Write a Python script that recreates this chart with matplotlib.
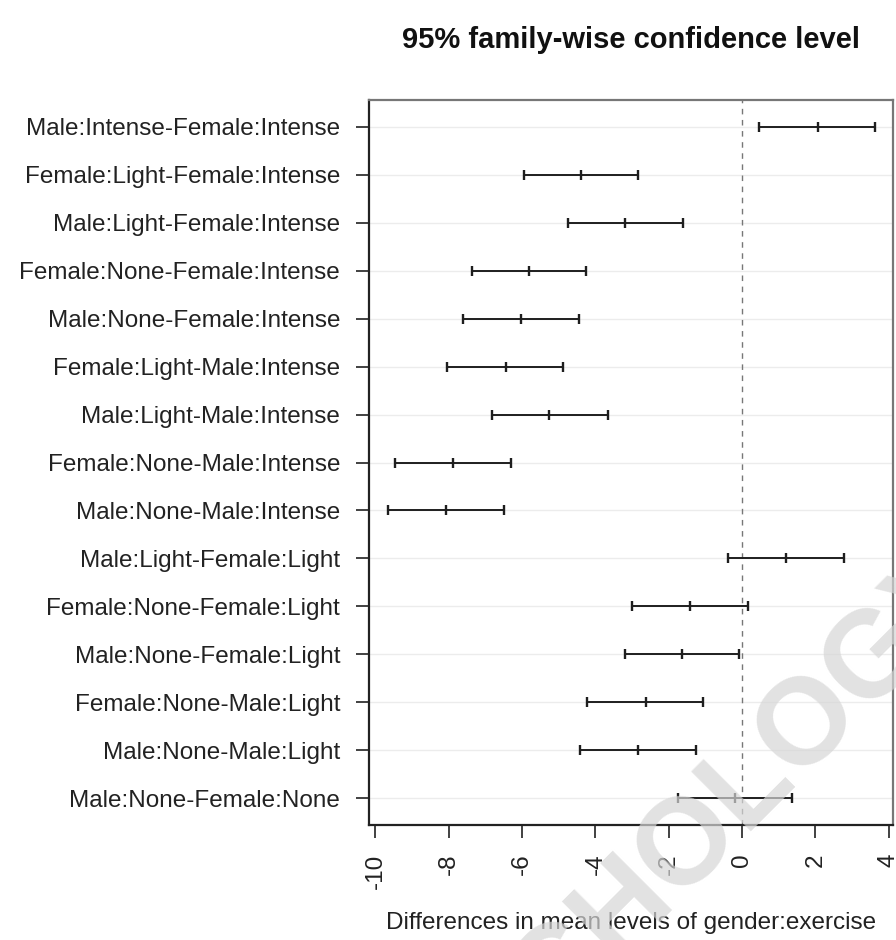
import matplotlib
matplotlib.use("Agg")
import matplotlib.pyplot as plt
import numpy as np

plt.rcParams['font.family'] = ['Liberation Sans', 'DejaVu Sans']

# Pairwise comparisons (Tukey HSD), top to bottom
comparisons = [
    "Male:Intense-Female:Intense",
    "Female:Light-Female:Intense",
    "Male:Light-Female:Intense",
    "Female:None-Female:Intense",
    "Male:None-Female:Intense",
    "Female:Light-Male:Intense",
    "Male:Light-Male:Intense",
    "Female:None-Male:Intense",
    "Male:None-Male:Intense",
    "Male:Light-Female:Light",
    "Female:None-Female:Light",
    "Male:None-Female:Light",
    "Female:None-Male:Light",
    "Male:None-Male:Light",
    "Male:None-Female:None",
]
diff = [2.06, -4.39, -3.18, -5.82, -6.02, -6.45, -5.26, -7.88, -8.08,
        1.19, -1.43, -1.64, -2.62, -2.85, -0.20]
lwr = [0.47, -5.96, -4.76, -7.37, -7.60, -8.04, -6.82, -9.46, -9.65,
       -0.37, -3.01, -3.19, -4.22, -4.42, -1.76]
upr = [3.62, -2.83, -1.62, -4.27, -4.44, -4.88, -3.66, -6.31, -6.50,
       2.78, 0.15, -0.07, -1.06, -1.25, 1.37]
x_ticks = [-10, -8, -6, -4, -2, 0, 2, 4]

fig = plt.figure(figsize=(8.96, 9.40), dpi=100)
ax = fig.add_axes([0.4113, 0.1223, 0.9967 - 0.4113, 0.8936 - 0.1223])

n = len(comparisons)
ypos = np.arange(n, 0, -1)

# faint horizontal guide lines for each comparison
for y in ypos:
    ax.axhline(y, color='#ececec', lw=1.0, zorder=0)

ax.axvline(0, color='#777777', lw=1.0, ls=(0, (4, 4)), zorder=1)

ax.hlines(ypos, lwr, upr, color='#1e1e1e', lw=1.4, zorder=3)
for vals in (lwr, diff, upr):
    ax.plot(vals, ypos, ls='none', marker='|', ms=7.5, mew=1.7, color='#1e1e1e', zorder=4)

ax.set_xlim(-10.19, 4.12)
ax.set_ylim(0.44, 15.56)

ax.set_yticks(ypos)
ax.set_yticklabels(comparisons, fontsize=17.5, color='#222222')
ax.set_xticks(x_ticks)
ax.set_xticklabels([str(t) for t in x_ticks], rotation=90, fontsize=17.5, color='#222222')
ax.tick_params(axis='both', length=9.5, width=1.3, color='#333333', pad=11)

for side in ['left', 'bottom']:
    ax.spines[side].set_color('#222222')
    ax.spines[side].set_linewidth(1.6)
for side in ['top', 'right']:
    ax.spines[side].set_color('#777777')
    ax.spines[side].set_linewidth(1.6)

ax.set_xlabel("Differences in mean levels of gender:exercise", fontsize=17.5,
              color='#222222', labelpad=17)
fig.text(0.704, 0.957, "95% family-wise confidence level", ha='center', va='center',
         fontsize=21, fontweight='bold', color='#111111')

# publisher watermark
fig.text(0.763, 0.053, "PSYCHOLOGY", ha='center', va='baseline', rotation=45,
         rotation_mode='anchor', fontsize=88, fontweight='bold',
         color='#d6d6d6', alpha=0.7, zorder=10)

fig.savefig("out.png", dpi=100)
